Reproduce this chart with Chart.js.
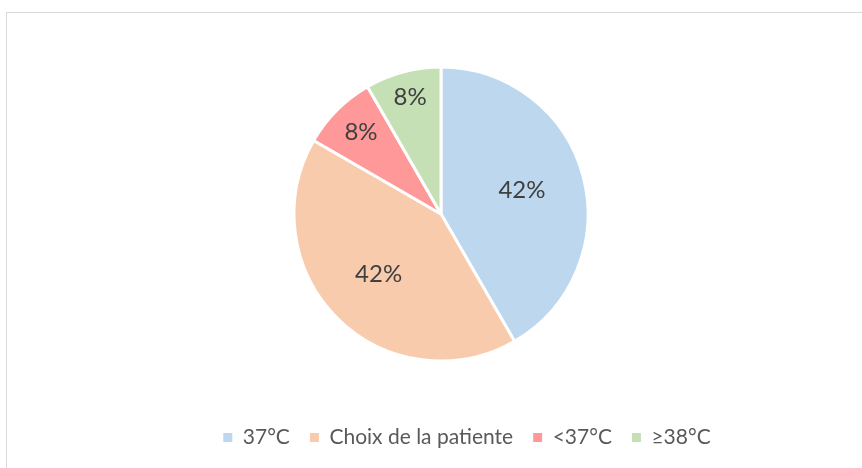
<!DOCTYPE html>
<html>
<head>
<meta charset="utf-8">
<script src="https://cdn.jsdelivr.net/npm/chart.js@4/dist/chart.umd.min.js"></script>
<style>
  html, body { margin:0; padding:0; background:#fff; overflow:hidden; }
  #wrap { position:relative; width:862px; height:468px; }
  #frame { position:absolute; left:6px; top:12px; width:900px; height:520px; border:1px solid #d9d9d9; box-sizing:border-box; }
  canvas { position:absolute; left:0; top:0; }
</style>
</head>
<body>
<div id="wrap">
  <div id="frame"></div>
  <canvas id="c" width="862" height="468"></canvas>
</div>
<script>
const categories = ['37°C', 'Choix de la patiente', '<37°C', '≥38°C'];
const values = [5, 5, 1, 1];
const colors = ['#BDD7EE', '#F8CBAD', '#FF9999', '#C5E0B4'];
const labelRadius = [0.57, 0.6, 0.77, 0.81];

const pctLabels = {
  id: 'pctLabels',
  afterDatasetsDraw(chart) {
    const ctx = chart.ctx;
    const meta = chart.getDatasetMeta(0);
    const data = chart.data.datasets[0].data;
    const total = data.reduce((a, b) => a + b, 0);
    ctx.save();
    ctx.font = '24px Lato';
    ctx.fillStyle = '#404040';
    ctx.textAlign = 'center';
    ctx.textBaseline = 'middle';
    meta.data.forEach((arc, i) => {
      const p = arc.getProps(['x', 'y', 'startAngle', 'endAngle', 'outerRadius'], true);
      const mid = (p.startAngle + p.endAngle) / 2;
      const r = p.outerRadius * labelRadius[i];
      const txt = Math.round(data[i] / total * 100) + '%';
      ctx.fillText(txt, p.x + Math.cos(mid) * r, p.y + Math.sin(mid) * r - 2);
    });
    ctx.restore();
  }
};

const shiftLegend = {
  id: 'shiftLegend',
  afterLayout(chart) {
    const l = chart.legend;
    l.left += 26; l.right += 26;
    l.top -= 10; l.bottom -= 10;
  }
};

new Chart(document.getElementById('c'), {
  type: 'pie',
  data: {
    labels: categories,
    datasets: [{
      data: values,
      backgroundColor: colors,
      borderColor: '#ffffff',
      borderWidth: 3,
      radius: 147
    }]
  },
  options: {
    responsive: false,
    animation: false,
    layout: { padding: { top: 11, bottom: 0, left: 20, right: 0 } },
    plugins: {
      tooltip: { enabled: false },
      legend: {
        position: 'bottom',
        labels: {
          boxWidth: 9,
          boxHeight: 9,
          padding: 20,
          color: '#595959',
          font: { family: 'Lato', size: 21 },
          generateLabels(chart) {
            const items = Chart.overrides.pie.plugins.legend.labels.generateLabels(chart);
            items.forEach(it => { it.lineWidth = 0; it.strokeStyle = 'rgba(0,0,0,0)'; });
            return items;
          }
        }
      }
    }
  },
  plugins: [pctLabels, shiftLegend]
});
</script>
</body>
</html>
